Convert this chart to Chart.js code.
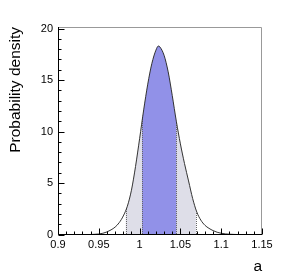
<!DOCTYPE html>
<html>
<head>
<meta charset="utf-8">
<script src="https://cdn.jsdelivr.net/npm/chart.js@4/dist/chart.umd.min.js"></script>
<style>
  body { margin: 0; background: #fff; }
  #wrap { width: 291px; height: 276px; }
</style>
</head>
<body>
<div id="wrap"><canvas id="chart" width="291" height="276"></canvas></div>
<script>
// valores
const valoresA = [0.90, 0.93, 0.94, 0.945, 0.95, 0.955, 0.96, 0.965, 0.97, 0.975, 0.98, 0.985,
  0.99, 0.995, 1.0, 1.005, 1.01, 1.015, 1.02, 1.023, 1.025, 1.03, 1.035, 1.04, 1.045, 1.05,
  1.055, 1.06, 1.065, 1.07, 1.075, 1.08, 1.085, 1.09, 1.095, 1.1, 1.105, 1.11, 1.115, 1.12, 1.13, 1.15];
const densidad = [0, 0, 0, 0.02, 0.05, 0.12, 0.25, 0.45, 0.72, 1.15, 1.8, 2.75,
  4.3, 6.6, 9.3, 12.1, 14.6, 16.6, 17.9, 18.3, 18.2, 17.4, 15.8, 13.5, 11.0, 8.8,
  6.9, 5.2, 3.5, 2.2, 1.4, 0.9, 0.6, 0.38, 0.22, 0.12, 0.06, 0.03, 0.01, 0, 0, 0];

// intervalos sombreados
const intervaloGris = [0.983, 1.069];
const intervaloAzul = [1.003, 1.045];

const ticksX = [0.9, 0.95, 1, 1.05, 1.1, 1.15];
const ticksY = [0, 5, 10, 15, 20];

const puntos = valoresA.map((a, i) => ({ x: a, y: densidad[i] }));

// relleno bajo la curva, limitado a cada intervalo
const rellenoPlugin = {
  id: "relleno",
  beforeDatasetsDraw(chart) {
    const { ctx, chartArea, scales } = chart;
    const linea = chart.getDatasetMeta(0).dataset;
    const pts = chart.getDatasetMeta(0).data;
    const y0 = scales.y.getPixelForValue(0);
    linea.updateControlPoints(chartArea, "x");
    ctx.save();
    ctx.beginPath();
    linea.path(ctx);
    ctx.lineTo(pts[pts.length - 1].x, y0);
    ctx.lineTo(pts[0].x, y0);
    ctx.closePath();
    ctx.clip();

    const x = (v) => scales.x.getPixelForValue(v);
    ctx.fillStyle = "#dedee8";
    ctx.fillRect(x(intervaloGris[0]), chartArea.top, x(intervaloGris[1]) - x(intervaloGris[0]), y0 - chartArea.top);
    ctx.fillStyle = "#9191e8";
    ctx.fillRect(x(intervaloAzul[0]), chartArea.top, x(intervaloAzul[1]) - x(intervaloAzul[0]), y0 - chartArea.top);

    ctx.strokeStyle = "#666";
    ctx.lineWidth = 1;
    ctx.setLineDash([1, 1]);
    [...intervaloGris, ...intervaloAzul].forEach((v) => {
      const px = Math.round(x(v)) + 0.5;
      ctx.beginPath();
      ctx.moveTo(px, chartArea.top);
      ctx.lineTo(px, y0);
      ctx.stroke();
    });
    ctx.restore();
  },
  afterDatasetsDraw(chart) {
    const { ctx, chartArea, scales } = chart;
    ctx.save();
    ctx.strokeStyle = "#000";
    ctx.lineWidth = 1;
    // marcas hacia dentro, eje x
    const yb = Math.round(chartArea.bottom) - 0.5;
    for (let k = 0; k <= 25; k++) {
      const v = 0.9 + k * 0.01;
      const px = Math.round(scales.x.getPixelForValue(v)) + 0.5;
      const largo = k % 5 === 0 ? 6 : 3;
      ctx.beginPath();
      ctx.moveTo(px, yb);
      ctx.lineTo(px, yb - largo);
      ctx.stroke();
    }
    // eje y
    const xl = Math.round(chartArea.left) + 0.5;
    for (let k = 0; k <= 20; k++) {
      const py = Math.round(scales.y.getPixelForValue(k)) + 0.5;
      const largo = k % 5 === 0 ? 6 : 3;
      ctx.beginPath();
      ctx.moveTo(xl, py);
      ctx.lineTo(xl + largo, py);
      ctx.stroke();
    }
    // marco
    ctx.strokeStyle = "#999";
    ctx.beginPath();
    ctx.moveTo(xl, Math.round(chartArea.top) + 0.5);
    ctx.lineTo(Math.round(chartArea.right) - 0.5, Math.round(chartArea.top) + 0.5);
    ctx.lineTo(Math.round(chartArea.right) - 0.5, yb);
    ctx.stroke();
    ctx.strokeStyle = "#000";
    ctx.beginPath();
    ctx.moveTo(xl, Math.round(chartArea.top));
    ctx.lineTo(xl, yb);
    ctx.lineTo(Math.round(chartArea.right), yb);
    ctx.stroke();
    ctx.restore();
  },
};

const fuente = "'Liberation Sans', Arial, Helvetica, sans-serif";

new Chart(document.getElementById("chart"), {
  type: "line",
  data: {
    datasets: [
      {
        data: puntos,
        borderColor: "#333",
        borderWidth: 1,
        pointRadius: 0,
        fill: false,
        cubicInterpolationMode: "monotone",
      },
    ],
  },
  options: {
    responsive: false,
    animation: false,
    events: [],
    layout: { padding: { top: 27, right: 29, left: 0, bottom: 0 } },
    plugins: { legend: { display: false }, tooltip: { enabled: false } },
    scales: {
      x: {
        type: "linear",
        min: 0.9,
        max: 1.15,
        afterFit: (s) => { s.height = 41.5; },
        afterBuildTicks: (s) => { s.ticks = ticksX.map((v) => ({ value: v })); },
        grid: { display: false, drawTicks: false },
        border: { display: false },
        ticks: {
          autoSkip: false,
          maxRotation: 0,
          padding: 4,
          color: "#000",
          font: { family: fuente, size: 11 },
          callback: (v) => String(+v.toFixed(2)),
        },
        title: {
          display: true,
          text: "a",
          align: "end",
          color: "#000",
          font: { family: fuente, size: 15.5 },
          padding: { top: 5, bottom: 0 },
        },
      },
      y: {
        min: 0,
        max: 20.15,
        afterFit: (s) => { s.width = 58; },
        afterBuildTicks: (s) => { s.ticks = ticksY.map((v) => ({ value: v })); },
        grid: { display: false, drawTicks: false },
        border: { display: false },
        ticks: {
          padding: 5,
          color: "#000",
          font: { family: fuente, size: 11 },
        },
        title: {
          display: true,
          text: "Probability density",
          align: "end",
          color: "#000",
          font: { family: fuente, size: 15.5 },
          padding: { top: 6, bottom: 0 },
        },
      },
    },
  },
  plugins: [rellenoPlugin],
});
</script>
</body>
</html>
